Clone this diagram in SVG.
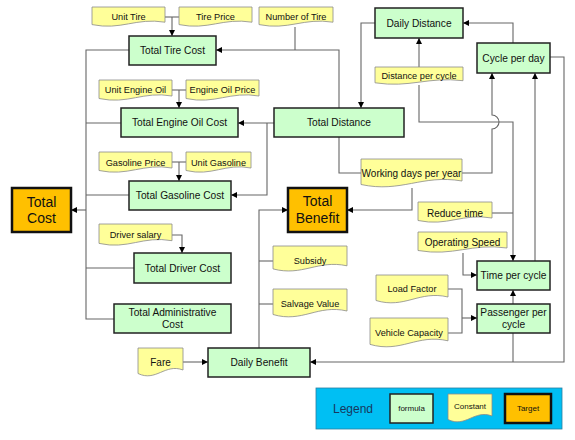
<svg xmlns="http://www.w3.org/2000/svg" width="575" height="440" viewBox="0 0 575 440">
<style>
text{font-family:"Liberation Sans",Arial,sans-serif;fill:#111;text-anchor:middle}
.f rect{fill:#CCFFCC;stroke:#222;stroke-width:1.5}
.c path{fill:#FFFF99;stroke:#8a8a8a;stroke-width:0.8}
.t rect{fill:#FFC000;stroke:#111;stroke-width:2.5}
.f text{font-size:10.2px}
.c text{font-size:9.2px}
.c text.b{font-size:10px}
.t text{font-size:14px}
#connectors path{fill:none;stroke:#666;stroke-width:1.1}
#connectors path.a{marker-end:url(#arr)}
</style>
<defs>
<marker id="arr" viewBox="0 0 10 10" refX="10" refY="5" markerWidth="7" markerHeight="6" markerUnits="userSpaceOnUse" orient="auto">
<path d="M0,0 L10,5 L0,10 Z" fill="#000"/>
</marker>
</defs>
<rect width="575" height="440" fill="#fff"/>
<g id="connectors">
<path d="M165,17 H179"/>
<path class="a" d="M172,17 V36"/>
<path d="M295,27 V50"/>
<path class="a" d="M339,108 V50 H216"/>
<path class="a" d="M375,23 H361 V108"/>
<path class="a" d="M513,43 V23 H463"/>
<path class="a" d="M419,67 V38"/>
<path class="a" d="M419,85 V122 H513 V261"/>
<path class="a" d="M462,173 H492 V129 A7,7 0 0 0 492,115 V73"/>
<path class="a" d="M535,261 V73"/>
<path d="M492,213 H513"/>
<path class="a" d="M463,253 V275 H477"/>
<path class="a" d="M513,304 V290"/>
<path d="M448,289 H462 V333 H448"/>
<path class="a" d="M462,318 H477"/>
<path class="a" d="M550,57 H564 V362 H310"/>
<path d="M513,333 V362"/>
<path d="M339,137 V173 H361"/>
<path class="a" d="M412,188 V210 H347"/>
<path class="a" d="M274,123 H238"/>
<path class="a" d="M267,123 V195 H231"/>
<path d="M172,90 H186"/>
<path class="a" d="M179,90 V108"/>
<path d="M172,162 H186"/>
<path class="a" d="M179,162 V181"/>
<path class="a" d="M172,235 H182 V253"/>
<path d="M129,50 H86 V319 H114"/>
<path d="M121,123 H86"/>
<path d="M129,195 H86"/>
<path d="M134,268 H86"/>
<path class="a" d="M86,210 H71"/>
<path class="a" d="M259,348 V210 H288"/>
<path d="M259,261 H273"/>
<path d="M259,304 H273"/>
<path class="a" d="M183,362 H208"/>
</g>
<g id="unit-tire" class="c"><path d="M92,7 H165 V22.2 C135.8,17.4 121.2,30.6 92,24.6 Z"/><text x="128.5" y="20">Unit Tire</text></g>
<g id="tire-price" class="c"><path d="M179,7 H252 V22.2 C222.8,17.4 208.2,30.6 179,24.6 Z"/><text x="215.5" y="20">Tire Price</text></g>
<g id="number-of-tire" class="c"><path d="M259,7 H333 V22.2 C303.4,17.4 288.6,30.6 259,24.6 Z"/><text x="296" y="20">Number of Tire</text></g>
<g id="total-tire-cost" class="f"><rect x="129" y="36" width="87" height="29"/><text x="172.5" y="54">Total Tire Cost</text></g>
<g id="unit-engine-oil" class="c"><path d="M99,80 H172 V96 C142.8,90.9 128.2,104.8 99,98.5 Z"/><text x="135.5" y="93">Unit Engine Oil</text></g>
<g id="engine-oil-price" class="c"><path d="M186,80 H259 V96 C229.8,90.9 215.2,104.8 186,98.5 Z"/><text x="222.5" y="93">Engine Oil Price</text></g>
<g id="total-engine-oil-cost" class="f"><rect x="121" y="108" width="117" height="29"/><text x="179.5" y="126">Total Engine Oil Cost</text></g>
<g id="total-distance" class="f"><rect x="274" y="108" width="130" height="29"/><text x="339" y="126">Total Distance</text></g>
<g id="daily-distance" class="f"><rect x="375" y="8" width="88" height="30"/><text x="419" y="26.5">Daily Distance</text></g>
<g id="cycle-per-day" class="f"><rect x="477" y="43" width="73" height="30"/><text x="513.5" y="61.5">Cycle per day</text></g>
<g id="distance-per-cycle" class="c"><path d="M375,67 H463 V80.7 C427.8,76.4 410.2,88.2 375,82.8 Z"/><text x="419" y="79">Distance per cycle</text></g>
<g id="gasoline-price" class="c"><path d="M99,152 H172 V168 C142.8,162.9 128.2,176.8 99,170.5 Z"/><text x="135.5" y="166">Gasoline Price</text></g>
<g id="unit-gasoline" class="c"><path d="M186,152 H251 V168 C225,162.9 212,176.8 186,170.5 Z"/><text x="218.5" y="166">Unit Gasoline</text></g>
<g id="total-gasoline-cost" class="f"><rect x="129" y="181" width="102" height="29"/><text x="180" y="199">Total Gasoline Cost</text></g>
<g id="total-cost" class="t"><rect x="12" y="188" width="59" height="44"/><text x="41.5" y="207">Total</text><text x="41.5" y="223">Cost</text></g>
<g id="total-benefit" class="t"><rect x="288" y="188" width="59" height="44"/><text x="317.5" y="206">Total</text><text x="317.5" y="223">Benefit</text></g>
<g id="driver-salary" class="c"><path d="M99,224 H172 V240.7 C142.8,235.4 128.2,250 99,243.4 Z"/><text x="135.5" y="238">Driver salary</text></g>
<g id="total-driver-cost" class="f"><rect x="134" y="253" width="97" height="30"/><text x="182.5" y="271.5">Total Driver Cost</text></g>
<g id="working-days-per-year" class="c"><path d="M361,159 H462 V181 C421.6,174.1 401.4,193.2 361,184.5 Z"/><text class="b" x="411.5" y="176.5">Working days per year</text></g>
<g id="reduce-time" class="c"><path d="M418,202 H492 V218 C462.4,212.9 447.6,226.8 418,220.5 Z"/><text class="b" x="455" y="216.5">Reduce time</text></g>
<g id="operating-speed" class="c"><path d="M418,232 H507 V248 C471.4,242.9 453.6,256.8 418,250.5 Z"/><text class="b" x="462.5" y="245.5">Operating Speed</text></g>
<g id="time-per-cycle" class="f"><rect x="477" y="261" width="73" height="29"/><text x="513.5" y="279">Time per cycle</text></g>
<g id="subsidy" class="c"><path d="M273,246 H347 V265.8 C317.4,259.5 302.6,276.7 273,268.9 Z"/><text x="310" y="264">Subsidy</text></g>
<g id="salvage-value" class="c"><path d="M273,289 H347 V311 C317.4,304.1 302.6,323.2 273,314.5 Z"/><text x="310" y="307">Salvage Value</text></g>
<g id="load-factor" class="c"><path d="M376,275 H448 V297 C419.2,290.1 404.8,309.2 376,300.5 Z"/><text x="412" y="292">Load Factor</text></g>
<g id="vehicle-capacity" class="c"><path d="M370,318 H448 V340.8 C416.8,333.6 401.2,353.4 370,344.4 Z"/><text x="409" y="336">Vehicle Capacity</text></g>
<g id="passenger-per-cycle" class="f"><rect x="477" y="304" width="73" height="29"/><text x="513.5" y="315.5">Passenger per</text><text x="513.5" y="327.5">cycle</text></g>
<g id="total-administrative-cost" class="f"><rect x="114" y="304" width="117" height="29"/><text x="172.5" y="315.5">Total Administrative</text><text x="172.5" y="327.5">Cost</text></g>
<g id="fare" class="c"><path d="M138,348 H183 V370 C165,363.1 156,382.2 138,373.5 Z"/><text class="b" x="160.5" y="366">Fare</text></g>
<g id="daily-benefit" class="f"><rect x="208" y="348" width="102" height="29"/><text x="259" y="366">Daily Benefit</text></g>
<g id="legend">
<rect x="316" y="388" width="246" height="41" fill="#00BFF3" stroke="#2a7fa0" stroke-width="0.8"/>
<text x="353" y="412.5" style="font-size:12px;fill:#17375E">Legend</text>
<g class="f"><rect x="390" y="394" width="43" height="29"/><text x="411.5" y="411" style="font-size:8px">formula</text></g>
<g class="c"><path d="M448,394 H492 V416 C474.4,409.1 465.6,428.2 448,419.5 Z"/><text x="470" y="409" style="font-size:8px">Constant</text></g>
<g class="t"><rect x="505" y="394" width="46" height="29"/><text x="528" y="411" style="font-size:8px">Target</text></g>
</g>
</svg>
